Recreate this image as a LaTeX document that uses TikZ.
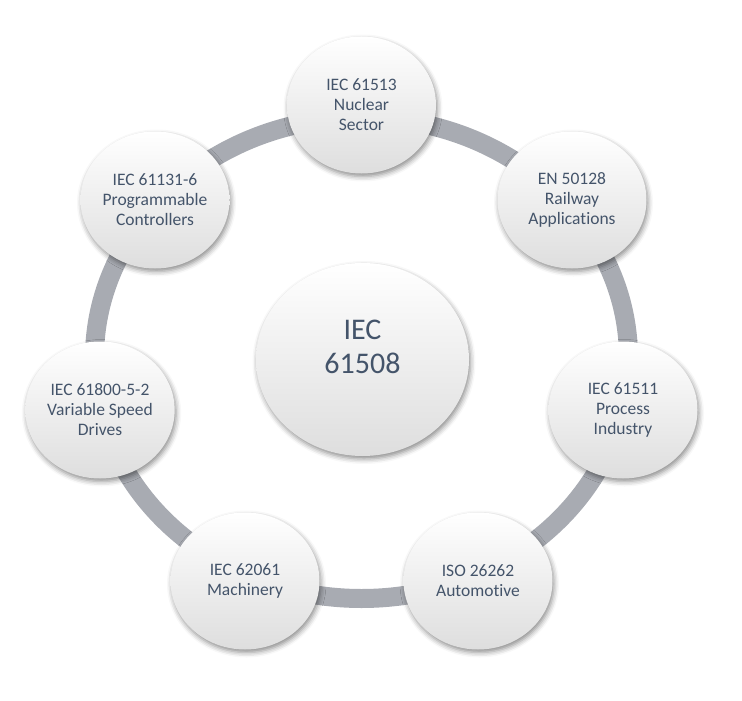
\documentclass[tikz,border=0pt]{standalone}
\usepackage{fontspec}
\setmainfont{Carlito}[Ligatures=NoCommon]
\usetikzlibrary{shapes.geometric,shadows.blur}
\definecolor{slate}{HTML}{44546A}
\definecolor{band}{HTML}{A8ABB2}
\begin{document}
\begin{tikzpicture}[x=1pt,y=-1pt,
                    mnode/.style = {shape = ellipse,
                                    minimum width = 149pt,
                                    minimum height = 137pt,
                                    inner sep=0pt,
                                    top color = white,
                                    middle color = white,
                                    bottom color = black!13,
                                    text = slate,
                                    align = center,
                                    font=\fontsize{17.5}{20}\selectfont,
                                    blur shadow={shadow xshift=1.5pt,
                                                 shadow yshift=-3pt,
                                                 shadow blur radius=5pt,
                                                 shadow opacity=45}},
                    hnode/.style = {mnode,
                                    minimum width = 213pt,
                                    minimum height = 193pt},
                    htext/.style = {text = slate,
                                    align = center,
                                    font=\fontsize{30}{34}\selectfont},
                    ring/.style = {draw = band,
                                   line width = 19pt}]
		\useasboundingbox (0,0) rectangle (742,701);
		\coordinate (c) at (361.5,358);
		\draw[ring] (c) ellipse [x radius=267, y radius=240.5];
		\node[hnode] (0) at (362.5,359.5) {};
		\node[htext] (0t) at (0) [yshift=13pt] {IEC\\61508};
		\node[mnode] (1) at (361.5,105) {IEC 61513\\Nuclear\\Sector};
		\node[mnode] (2) at (572,200) {EN 50128\\Railway\\Applications};
		\node[mnode] (3) at (623,410) {IEC 61511\\Process\\Industry};
		\node[mnode] (4) at (478,581) {ISO 26262\\Automotive};
		\node[mnode] (5) at (245,581) {IEC 62061\\Machinery};
		\node[mnode] (6) at (100,410) {IEC 61800-5-2\\Variable Speed\\Drives};
		\node[mnode] (7) at (155,200) {IEC 61131-6\\Programmable\\Controllers};
	\end{tikzpicture}
\end{document}
